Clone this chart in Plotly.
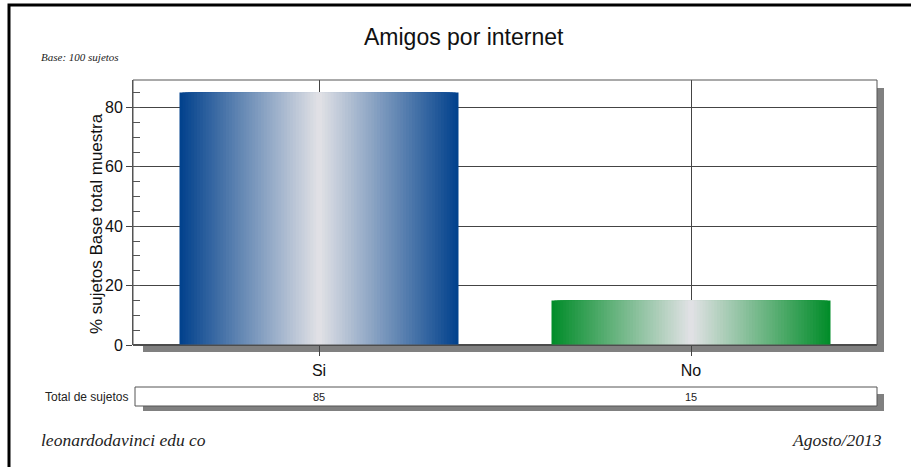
import plotly.graph_objects as go

# ---- data ----
categories = ["Si", "No"]
values = [85, 15]
totals = [85, 15]
title_text = "Amigos por internet"
y_title = "% sujetos Base total muestra"
base_note = "Base: 100 sujetos"
footer_left = "leonardodavinci edu co"
footer_right = "Agosto/2013"
table_label = "Total de sujetos"

# ---- styling ----
W, H = 911, 467
L, R, T, B = 133, 877, 80, 345  # pixel coords of the plot area
PW, PH = R - L, B - T


def px(x):
    return (x - L) / PW


def py(y):
    return (B - y) / PH


edge_colors = [(0, 64, 140), (0, 140, 40)]
center_color = (226, 226, 230)
bar_width = 0.75
N = 48

fig = go.Figure()
for i in range(N):
    w = bar_width * (1 - i / N)
    f = (i + 0.5) / N
    cols = []
    for ec in edge_colors:
        c = tuple(round(ec[k] + (center_color[k] - ec[k]) * f) for k in range(3))
        cols.append("rgb(%d,%d,%d)" % c)
    fig.add_trace(go.Bar(
        x=categories, y=values, width=w,
        marker=dict(color=cols, line=dict(width=0)),
        hoverinfo="skip", showlegend=False,
    ))

shapes = []
shadow = "#808080"
# outer border
shapes.append(dict(type="rect", xref="paper", yref="paper",
                   x0=px(9), x1=px(925), y0=py(485), y1=py(5),
                   line=dict(color="black", width=3), layer="below"))
# plot area shadows
shapes.append(dict(type="rect", xref="paper", yref="paper",
                   x0=px(R), x1=px(R + 7), y0=py(B + 7), y1=py(T + 8),
                   fillcolor=shadow, line=dict(width=0), layer="below"))
shapes.append(dict(type="rect", xref="paper", yref="paper",
                   x0=px(L + 10), x1=px(R + 7), y0=py(B + 7), y1=py(B),
                   fillcolor=shadow, line=dict(width=0), layer="below"))
# plot frame
shapes.append(dict(type="rect", xref="paper", yref="paper",
                   x0=0, x1=1, y0=0, y1=1,
                   line=dict(color="#555555", width=1), layer="above"))
# table box + shadow
tb_top, tb_bot = 387, 406
shapes.append(dict(type="rect", xref="paper", yref="paper",
                   x0=px(R), x1=px(R + 7), y0=py(tb_bot + 5), y1=py(tb_top + 7),
                   fillcolor=shadow, line=dict(width=0)))
shapes.append(dict(type="rect", xref="paper", yref="paper",
                   x0=px(L + 10), x1=px(R + 7), y0=py(tb_bot + 5), y1=py(tb_bot),
                   fillcolor=shadow, line=dict(width=0)))
shapes.append(dict(type="rect", xref="paper", yref="paper",
                   x0=px(L + 2), x1=px(R), y0=py(tb_bot), y1=py(tb_top),
                   fillcolor="white", line=dict(color="#555555", width=1)))

sans = "Liberation Sans, Arial"
serif = "Liberation Serif, Times New Roman"
annotations = [
    dict(text=title_text, xref="paper", yref="paper", x=px(464), y=py(37),
         showarrow=False, font=dict(family=sans, size=23, color="#111111"),
         xanchor="center", yanchor="middle"),
    dict(text="<i>" + base_note + "</i>", xref="paper", yref="paper", x=px(39), y=py(57),
         showarrow=False, font=dict(family=serif, size=11, color="#222222"),
         xanchor="left", yanchor="middle"),
    dict(text=y_title, xref="paper", yref="paper", x=px(96), y=py(224),
         showarrow=False, textangle=-90,
         font=dict(family=sans, size=17, color="#111111"),
         xanchor="center", yanchor="middle"),
    dict(text=table_label, xref="paper", yref="paper", x=px(130), y=py(397),
         showarrow=False, font=dict(family=sans, size=12, color="#222222"),
         xanchor="right", yanchor="middle"),
    dict(text="<i>" + footer_left + "</i>", xref="paper", yref="paper", x=px(39), y=py(440),
         showarrow=False, font=dict(family=serif, size=17.5, color="#222222"),
         xanchor="left", yanchor="middle"),
    dict(text="<i>" + footer_right + "</i>", xref="paper", yref="paper", x=px(884), y=py(440),
         showarrow=False, font=dict(family=serif, size=17.5, color="#222222"),
         xanchor="right", yanchor="middle"),
]

for c, t in zip(categories, totals):
    annotations.append(dict(text=str(t), xref="x", yref="paper", x=c, y=py(397),
                            showarrow=False,
                            font=dict(family=sans, size=11, color="#222222"),
                            xanchor="center", yanchor="middle"))

fig.update_layout(
    width=W, height=H,
    margin=dict(l=L, r=W - R, t=T, b=H - B, autoexpand=False),
    paper_bgcolor="white", plot_bgcolor="white",
    barmode="overlay",
    shapes=shapes, annotations=annotations,
    showlegend=False,
)
fig.update_xaxes(
    type="category", showgrid=True, gridcolor="#444444", gridwidth=1,
    ticks="outside", ticklen=10, tickcolor="#444444", tickwidth=1,
    tickfont=dict(family=sans, size=16, color="#111111"),
    ticklabelstandoff=1,
    showline=False, zeroline=False, range=[-0.5, 1.5],
)
fig.update_yaxes(
    range=[0, 89.25], dtick=20, tick0=0,
    showgrid=True, gridcolor="#444444", gridwidth=1,
    ticks="outside", ticklen=6, tickcolor="#444444",
    minor=dict(dtick=5, tick0=0, ticks="inside", ticklen=7, tickcolor="#555555", showgrid=False),
    tickfont=dict(family=sans, size=16, color="#111111"),
    showline=True, linecolor="#555555", zeroline=True, zerolinecolor="#444444",
)

fig.write_html(
    "out.html",
    config={"displayModeBar": False, "staticPlot": True},
    post_script="document.body.style.margin='0';document.body.style.overflow='hidden';",
)
